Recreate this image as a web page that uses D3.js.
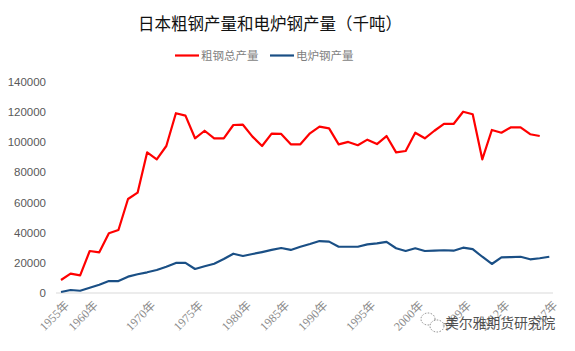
<!DOCTYPE html>
<html lang="zh">
<head>
<meta charset="UTF-8">
<title>日本粗钢产量和电炉钢产量</title>
<style>
  body { margin: 0; background: #fff; }
  svg { display: block; }
</style>
</head>
<body>
<svg width="575" height="351" id="svg"></svg>
<script src="https://d3js.org/d3.v7.min.js"></script>
<script>
// 粗钢总产量 (千吨), 51 个点
const crudeSteel = [8600, 12800, 11700, 27800, 26900, 39500, 41700, 62200, 66400, 93100,
  88500, 97300, 119000, 117400, 102400, 107400, 102400, 102400, 111200, 111400,
  103500, 97300, 105500, 105300, 98400, 98400, 105700, 110100, 109000, 98400,
  100000, 97800, 101500, 98600, 103900, 93100, 94000, 106100, 102400, 107400,
  111900, 111900, 120000, 118300, 88500, 107900, 106100, 109700, 109700, 105100,
  103900]
// 电炉钢产量 (千吨), 52 个点
const eafSteel = [660, 2000, 1500, 3500, 5500, 7900, 7900, 10800, 12400, 13700,
  15200, 17400, 19900, 19900, 15900, 17700, 19400, 22500, 26000, 24500,
  25800, 27100, 28500, 29800, 28500, 30600, 32400, 34400, 34000, 30600,
  30600, 30600, 32200, 32900, 33800, 29600, 27800, 29600, 27800, 28000,
  28300, 28000, 30000, 29100, 24000, 19200, 23600, 23800, 24000, 22300,
  23000, 24000]
const categories = d3.range(eafSteel.length)
// 横轴上显示的标签 (类别序号 -> 文字)
const tickIdx = [0, 3, 9, 14, 19, 23, 27, 32, 37, 42, 46, 51]
const tickLabels = ["1955年", "1960年", "1970年", "1975年", "1980年", "1985年",
  "1990年", "1995年", "2000年", "2009年", "2012年", "2017年"]
const yTicks = [0, 20000, 40000, 60000, 80000, 100000, 120000, 140000]
const seriesNames = ["粗钢总产量", "电炉钢产量"]
const colors = ["#ff0000", "#1a4f85"]

const svg = d3.select("svg#svg")
const cjk = "'Noto Sans CJK SC', 'Noto Sans', sans-serif"

const x = d3.scalePoint().domain(categories).range([61, 549.3])
const y = d3.scaleLinear().domain([0, 140000]).range([293, 81.5])

// 标题
svg.append("text")
  .attr("x", 270).attr("y", 30)
  .attr("text-anchor", "middle")
  .attr("font-family", cjk)
  .attr("font-size", 16.5)
  .attr("font-weight", 400)
  .attr("fill", "#111")
  .text("日本粗钢产量和电炉钢产量（千吨）")

// 图例
const legend = svg.append("g")
seriesNames.forEach((name, i) => {
  const lx = 175 + i * 95
  legend.append("line")
    .attr("x1", lx).attr("x2", lx + 24).attr("y1", 55.5).attr("y2", 55.5)
    .attr("stroke", colors[i]).attr("stroke-width", 2.2)
  legend.append("text")
    .attr("x", lx + 26).attr("y", 59.5)
    .attr("font-family", cjk).attr("font-size", 11.5)
    .attr("fill", "#7f7f7f")
    .text(name)
})

// y 轴
const yAxis = svg.append("g")
  .attr("transform", "translate(56,0)")
  .call(d3.axisLeft(y).tickValues(yTicks).tickSize(0).tickPadding(10).tickFormat(d3.format("d")))
yAxis.select(".domain").remove()
yAxis.selectAll("text")
  .attr("font-family", "'Liberation Sans', Arial, sans-serif")
  .attr("font-size", 11.5)
  .attr("fill", "#595959")

// x 轴
svg.append("line")
  .attr("x1", 56).attr("x2", 553).attr("y1", y(0)).attr("y2", y(0))
  .attr("stroke", "#d9d9d9").attr("stroke-width", 1)

svg.append("g").selectAll("text")
  .data(tickIdx)
  .join("text")
  .attr("transform", d => `translate(${x(d) + 6},${y(0) + 10}) rotate(-45)`)
  .attr("text-anchor", "end")
  .attr("dy", "0.35em")
  .attr("font-family", "'Liberation Serif', 'Noto Sans CJK SC', serif")
  .attr("font-size", 12)
  .attr("fill", "#8c8c8c")
  .text((d, i) => tickLabels[i])

// 折线
const line = d3.line().x((d, i) => x(i)).y(d => y(d))
;[crudeSteel, eafSteel].forEach((s, i) => {
  svg.append("path")
    .datum(s)
    .attr("d", line)
    .attr("fill", "none")
    .attr("stroke", colors[i])
    .attr("stroke-width", 2.2)
    .attr("stroke-linejoin", "round")
})

// 水印
const wm = svg.append("g").attr("opacity", 0.85)
wm.append("ellipse").attr("cx", 428).attr("cy", 319).attr("rx", 7).attr("ry", 6)
  .attr("fill", "none").attr("stroke", "#555").attr("stroke-width", 0.8).attr("stroke-dasharray", "1.5,1.5")
wm.append("ellipse").attr("cx", 437).attr("cy", 326).attr("rx", 7).attr("ry", 6)
  .attr("fill", "#fff").attr("stroke", "#555").attr("stroke-width", 0.8).attr("stroke-dasharray", "1.5,1.5")
wm.append("text")
  .attr("x", 445).attr("y", 328)
  .attr("font-family", cjk).attr("font-size", 13.8)
  .attr("fill", "#333")
  .text("美尔雅期货研究院")
</script>
</body>
</html>
